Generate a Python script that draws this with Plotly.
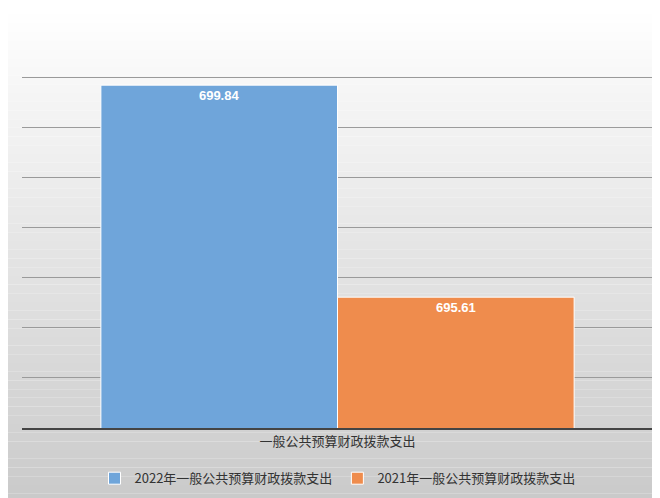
import plotly.graph_objects as go

category = ["一般公共预算财政拨款支出"]
series_names = ["2022年一般公共预算财政拨款支出", "2021年一般公共预算财政拨款支出"]
series_values = [[699.84], [695.61]]
colors = ["#6fa5da", "#ef8c4d"]

fig = go.Figure()
for name, vals, c in zip(series_names, series_values, colors):
    fig.add_trace(go.Bar(
        x=category, y=vals, name=name, marker_color=c,
        marker_line_color="white", marker_line_width=1,
        text=[f"<b>{v:.2f}</b>" for v in vals], textposition="inside",
        insidetextanchor="end",
        textfont=dict(color="white", size=13, family="Liberation Sans"),
    ))

# background gradient, white at top to grey at bottom
shapes = []
n = 60
for i in range(n):
    t = i / (n - 1)
    g = int(255 - t * 55)
    shapes.append(dict(type="rect", xref="paper", yref="paper",
                       x0=-0.05, x1=1.05, y0=1.05 - (i + 1) * 1.3 / n, y1=1.05 - i * 1.3 / n,
                       fillcolor=f"rgb({g},{g},{g})", line_width=0, layer="below"))

fig.update_layout(
    width=660, height=498,
    margin=dict(l=14, r=15, t=18, b=78, autoexpand=False),
    paper_bgcolor="rgba(0,0,0,0)", plot_bgcolor="rgba(0,0,0,0)",
    shapes=shapes,
    barmode="group", bargap=0.25, bargroupgap=0,
    font=dict(family="Noto Sans CJK SC", size=13, color="#333"),
    showlegend=True,
    legend=dict(orientation="h", x=0.5, xanchor="center", y=-0.125, yanchor="middle",
                font=dict(size=13), itemwidth=30, tracegroupgap=0),
    xaxis=dict(showline=True, linecolor="#444", linewidth=2, ticks="",
               tickfont=dict(size=13)),
    yaxis=dict(range=[693, 701.02], tickvals=list(range(693, 702)), showticklabels=False,
               gridcolor="#9a9a9a", gridwidth=1, zeroline=False),
)
fig.write_html("out.html")
